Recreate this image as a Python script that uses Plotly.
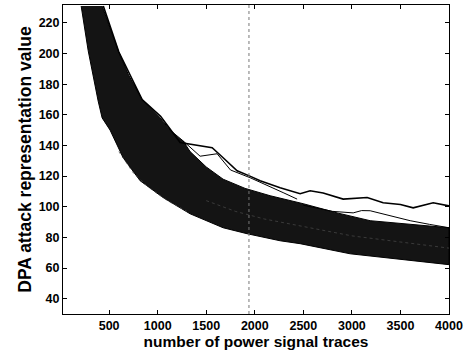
import plotly.graph_objects as go

# Envelope of the dense bundle of key-guess traces
band_upper_x = [428, 520, 593, 700, 840, 1025, 1128, 1262, 1334, 1500, 1674, 1900, 2158, 2498, 2848, 3188, 3528, 4000]
band_upper_y = [231, 214, 202, 186, 170, 158, 150, 143, 136, 126, 118, 112, 107.2, 102, 96, 90.9, 88.9, 86.3]
band_lower_x = [212, 284, 387, 428, 510, 644, 819, 1056, 1334, 1674, 1921, 2261, 2467, 2982, 3500, 4000]
band_lower_y = [231, 202, 169, 158, 150, 132, 117, 106, 95.4, 86.3, 82.4, 77.8, 75.9, 69.3, 65.5, 62.2]

# Outlier traces
top_x = [440, 600, 840, 1030, 1231, 1400, 1561, 1674, 1818, 1950, 2055, 2261, 2467, 2570, 2704, 2910, 3157, 3322, 3500, 3631, 3750, 3837, 4000]
top_y = [231, 201, 170, 159, 142, 140, 138.5, 132, 123.5, 120, 117, 112.4, 108.5, 110.4, 109, 105, 106, 102.6, 101.5, 99.3, 101, 102.6, 100.6]
second_x = [1262, 1437, 1612, 1750, 1950, 2150, 2300, 2436]
second_y = [143, 133, 134.6, 124, 119, 113, 109, 105]
third_x = [2500, 2800, 3013, 3100, 3188, 3322, 3450, 3600, 3800, 4000]
third_y = [101, 97, 96, 97.5, 97.4, 95.4, 93, 90.9, 88.5, 86.3]

# Faint light streaks visible inside the bundle
streak1_x = [600, 750, 900, 1100, 1300]
streak1_y = [136, 122, 113, 104, 97]
streak2_x = [1500, 1800, 2100, 2500, 3000, 3500, 4000]
streak2_y = [104, 97, 92, 87, 81, 77, 73]

dash_x = 1940
x_range = [25, 4000]
y_range = [30, 231.7]
x_ticks = [500, 1000, 1500, 2000, 2500, 3000, 3500, 4000]
y_ticks = [40, 60, 80, 100, 120, 140, 160, 180, 200, 220]

fig = go.Figure()

poly_x = band_upper_x + band_lower_x[::-1]
poly_y = band_upper_y + band_lower_y[::-1]
fig.add_trace(go.Scatter(x=poly_x, y=poly_y, mode="lines", fill="toself",
                         fillcolor="#141414", line=dict(color="#000000", width=1),
                         hoverinfo="skip", showlegend=False))

for xs, ys in [(streak1_x, streak1_y), (streak2_x, streak2_y)]:
    fig.add_trace(go.Scatter(x=xs, y=ys, mode="lines",
                             line=dict(color="#4a4a4a", width=0.7, dash="dot"),
                             showlegend=False, hoverinfo="skip"))

for xs, ys, w in [(top_x, top_y, 1.6), (second_x, second_y, 1.0), (third_x, third_y, 1.0)]:
    fig.add_trace(go.Scatter(x=xs, y=ys, mode="lines",
                             line=dict(color="#000000", width=w),
                             showlegend=False))

fig.add_trace(go.Scatter(x=[dash_x, dash_x], y=y_range, mode="lines",
                         line=dict(color="#777777", width=1, dash="dot"),
                         showlegend=False))

axis_font = dict(family="Liberation Sans, Arial, sans-serif", size=12.5, color="#000000", weight="bold")
xtitle_font = dict(family="Liberation Sans, Arial, sans-serif", size=15.5, color="#000000", weight="bold")
ytitle_font = dict(family="Liberation Sans, Arial, sans-serif", size=17.5, color="#000000", weight="bold")

fig.update_layout(
    width=469, height=355,
    margin=dict(l=63, r=20, t=5, b=41),
    paper_bgcolor="white", plot_bgcolor="white",
    xaxis=dict(range=x_range, tickvals=x_ticks, ticks="inside", ticklen=4,
               tickcolor="#000", showline=True, linecolor="#000", linewidth=1,
               mirror="allticks", showgrid=False, zeroline=False,
               tickfont=axis_font,
               title=dict(text="number of power signal traces", font=xtitle_font, standoff=1)),
    yaxis=dict(range=y_range, tickvals=y_ticks, ticks="inside", ticklen=4,
               tickcolor="#000", showline=True, linecolor="#000", linewidth=1,
               mirror="allticks", showgrid=False, zeroline=False,
               tickfont=axis_font,
               title=dict(text="DPA attack representation value", font=ytitle_font, standoff=2)),
)

fig.write_html("out.html", config={"displayModeBar": False},
               post_script="document.body.style.margin='0';document.body.style.padding='0';")
